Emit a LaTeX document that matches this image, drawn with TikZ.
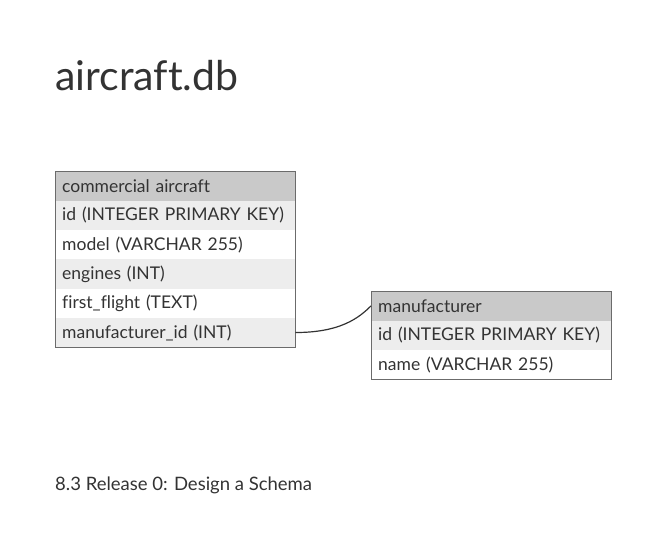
\documentclass[tikz,border=0pt]{standalone}
\usepackage{fontspec}
\setmainfont{Lato}[Ligatures=NoCommon]
\usetikzlibrary{positioning}
\definecolor{headgray}{HTML}{C9C9C9}
\definecolor{rowgray}{HTML}{EDEDED}
\definecolor{framegray}{HTML}{6B6B6B}
\definecolor{inkgray}{HTML}{333333}
\tikzset{cell/.style={minimum width=240pt,minimum height=29.33pt,inner xsep=7pt,inner ysep=0pt,anchor=north west,text=inkgray,align=left,text width=226pt,font=\fontsize{17.5}{19}\selectfont}}

\begin{document}
\begin{tikzpicture}[x=1pt, y=-1pt]
\useasboundingbox (0,0) rectangle (667,550);

\node (title) at (55,90) [anchor=base west, inner sep=0pt, text=inkgray, font=\fontsize{41}{46}\selectfont] {aircraft.db};

% commercial aircraft table
\foreach \t/\c [count=\i from 0] in {commercial aircraft/headgray, id (INTEGER PRIMARY KEY)/rowgray, model (VARCHAR 255)/white, engines (INT)/rowgray, first\_flight (TEXT)/white, manufacturer\_id (INT)/rowgray} {
\node (ac\i) at (55,{171+\i*29.33}) [cell, fill=\c] {\t};
}
\draw[framegray, line width=1pt] (ac0.north west) rectangle (ac5.south east);

% manufacturer table
\foreach \t/\c [count=\i from 0] in {manufacturer/headgray, id (INTEGER PRIMARY KEY)/rowgray, name (VARCHAR 255)/white} {
\node (mf\i) at (371,{291+\i*29.33}) [cell, fill=\c] {\t};
}
\draw[framegray, line width=1pt] (mf0.north west) rectangle (mf2.south east);

\draw[inkgray, line width=1.2pt] (ac5.east) .. controls +(45,0) and +(-12,12) .. (mf0.west);

\node (caption) at (55,490) [anchor=base west, inner sep=0pt, text=inkgray, font=\fontsize{18.5}{20}\selectfont] {8.3 Release 0: Design a Schema};
\end{tikzpicture}
\end{document}
